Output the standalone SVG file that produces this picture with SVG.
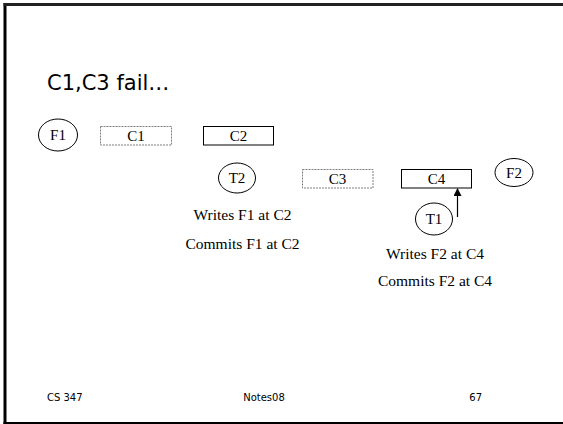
<svg xmlns="http://www.w3.org/2000/svg" width="563" height="424" viewBox="0 0 563 424">
<style>
.serif{font-family:"Liberation Serif","Times New Roman",serif;font-size:15px;fill:#000;text-anchor:middle}
.note{font-size:15.5px}
.sans{font-family:"DejaVu Sans",Verdana,sans-serif;fill:#000}
.solid{fill:#fff;stroke:#000;stroke-width:1}
.dash{fill:#fff;stroke:#7f7f7f;stroke-width:1;stroke-dasharray:2 1}
.ell{fill:#fff;stroke:#000;stroke-width:1}
</style>
<defs>
<marker id="ah" markerWidth="8" markerHeight="8" refX="7" refY="4" orient="auto" markerUnits="userSpaceOnUse">
<path d="M0,0 L8,4 L0,8 z" fill="#000"/>
</marker>
</defs>
<rect width="563" height="424" fill="#fff"/>
<g id="frame">
<line x1="5" y1="3" x2="5" y2="424" stroke="#000" stroke-width="3"/>
<line x1="3.5" y1="4.5" x2="563" y2="4.5" stroke="#222" stroke-width="3"/>
<line x1="3.5" y1="423" x2="563" y2="423" stroke="#000" stroke-width="2"/>
</g>
<text class="sans" x="47" y="90" font-size="21">C1,C3 fail…</text>
<g id="F1"><ellipse class="ell" cx="58" cy="135" rx="19.5" ry="16"/><text class="serif" x="58" y="140">F1</text></g>
<g id="C1"><rect class="dash" x="100.5" y="126.5" width="71" height="18.5"/><text class="serif" x="136" y="141">C1</text></g>
<g id="C2"><rect class="solid" x="203.5" y="126.5" width="70" height="18.5"/><text class="serif" x="238.5" y="141">C2</text></g>
<g id="T2"><ellipse class="ell" cx="237" cy="178" rx="18.5" ry="15"/><text class="serif" x="237" y="183">T2</text></g>
<g id="C3"><rect class="dash" x="302.5" y="169.5" width="70.5" height="18.5"/><text class="serif" x="337.5" y="184">C3</text></g>
<g id="C4"><rect class="solid" x="401.5" y="169.5" width="70" height="18.5"/><text class="serif" x="436.5" y="184">C4</text></g>
<g id="F2"><ellipse class="ell" cx="514" cy="172.5" rx="19" ry="14"/><text class="serif" x="514" y="178">F2</text></g>
<g id="T1"><ellipse class="ell" cx="434" cy="219" rx="18.5" ry="16"/><text class="serif" x="434" y="224">T1</text></g>
<g id="connectors">
<line x1="457.5" y1="217" x2="457.5" y2="189" stroke="#000" stroke-width="1.2" marker-end="url(#ah)"/>
</g>
<g id="notes">
<text class="serif note" x="242.5" y="220">Writes F1 at C2</text>
<text class="serif note" x="242.5" y="249">Commits F1 at C2</text>
<text class="serif note" x="435" y="259">Writes F2 at C4</text>
<text class="serif note" x="435" y="286">Commits F2 at C4</text>
</g>
<g id="footer">
<text class="sans" x="47" y="401" font-size="10">CS 347</text>
<text class="sans" x="264" y="401" font-size="10" text-anchor="middle">Notes08</text>
<text class="sans" x="482" y="401" font-size="10" text-anchor="end">67</text>
</g>
</svg>
